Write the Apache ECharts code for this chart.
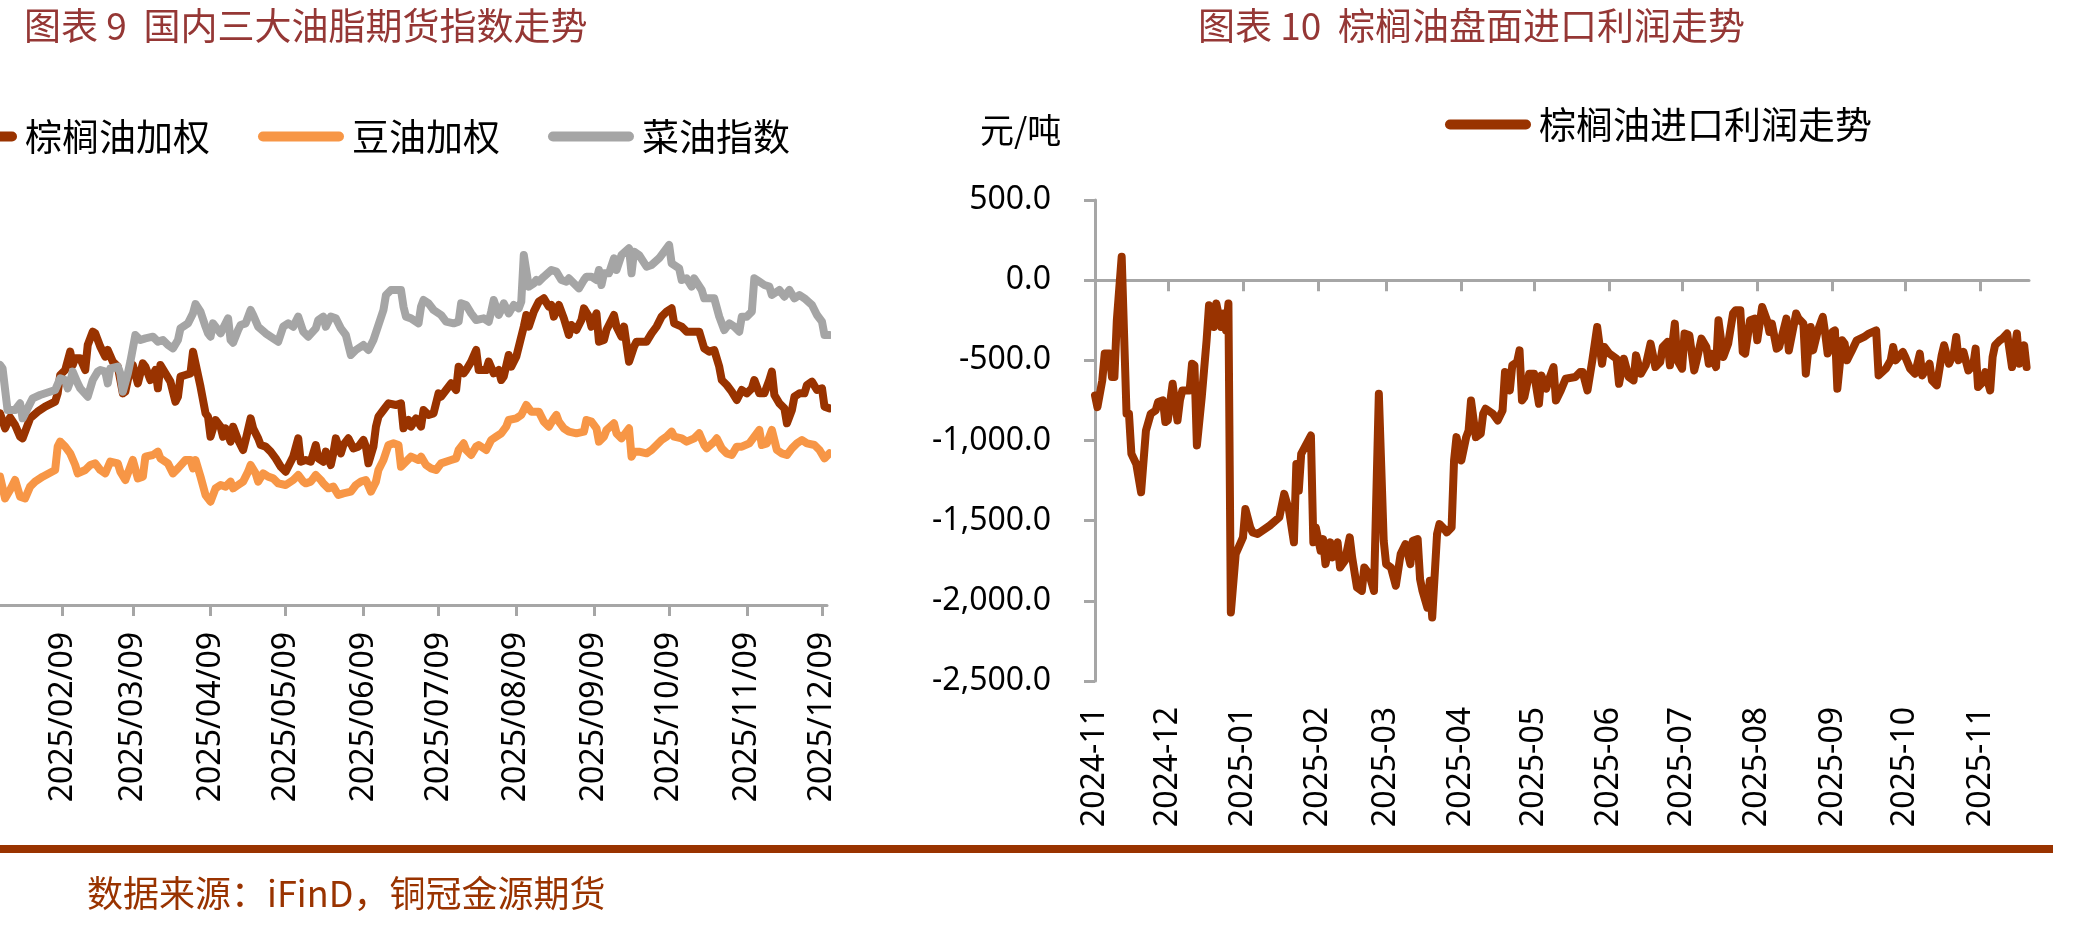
<!DOCTYPE html>
<html>
<head>
<meta charset="utf-8">
<title>国内三大油脂期货指数走势 / 棕榈油盘面进口利润走势</title>
<script src="https://cdn.jsdelivr.net/npm/echarts@6/dist/echarts.min.js"></script>
<style>
  html, body { margin: 0; padding: 0; background: #fff; }
  #chart { width: 2095px; height: 928px; }
</style>
</head>
<body>
<div id="chart"></div>
<script>
const DAY = 86400000

// 图表9：三大油脂指数，横轴为自 2025-01-15 起的天数
const oilBase = Date.UTC(2025, 0, 15)

const palmDays = [
  0, 2, 4, 6, 8, 9, 12, 15, 18, 22,
  23, 24, 26, 28, 29, 30, 32, 34, 35, 37,
  38, 40, 42, 43, 45, 47, 49, 50, 52, 53,
  55, 57, 58, 60, 62, 63, 64, 66, 68, 70,
  71, 72, 74, 76, 77, 78, 80, 82, 83, 84,
  86, 88, 89, 90, 92, 93, 95, 97, 98, 100,
  101, 103, 104, 106, 108, 110, 112, 114, 115, 117,
  119, 120, 122, 124, 126, 127, 129, 130, 132, 133,
  134, 136, 137, 139, 141, 143, 145, 146, 147, 149,
  150, 151, 153, 155, 158, 160, 161, 162, 163, 164,
  166, 168, 169, 171, 173, 175, 176, 178, 180, 182,
  183, 185, 186, 188, 190, 191, 194, 195, 197, 199,
  200, 201, 203, 204, 206, 207, 209, 210, 211, 213,
  215, 217, 219, 220, 221, 223, 225, 227, 228, 230,
  232, 233, 235, 236, 238, 239, 241, 242, 245, 246,
  248, 249, 251, 253, 254, 258, 260, 262, 264, 266,
  268, 269, 272, 274, 277, 279, 281, 283, 285, 287,
  288, 290, 292, 294, 296, 298, 300, 301, 303, 305,
  307, 308, 309, 311, 313, 314, 316, 317, 319, 321,
  322, 324, 326, 328, 329, 331
]
const palmVals = [
  8400, 8265, 8364, 8295, 8190, 8175, 8355, 8415, 8460, 8505,
  8580, 8745, 8790, 8955, 8835, 8895, 8895, 8790, 9015, 9135,
  9120, 9000, 8910, 8970, 8865, 8820, 8580, 8595, 8805, 8835,
  8670, 8850, 8820, 8700, 8790, 8625, 8835, 8760, 8685, 8505,
  8550, 8730, 8745, 8760, 8955, 8850, 8640, 8400, 8370, 8190,
  8340, 8280, 8190, 8265, 8145, 8280, 8160, 8070, 8160, 8355,
  8265, 8175, 8115, 8100, 8055, 7995, 7920, 7875, 7920, 8010,
  8175, 7965, 7980, 7965, 8115, 7995, 7965, 8055, 7935, 8040,
  8175, 8040, 8115, 8175, 8085, 8100, 8160, 8100, 7950, 8100,
  8280, 8370, 8430, 8490, 8475, 8490, 8265, 8310, 8340, 8280,
  8355, 8280, 8430, 8385, 8400, 8580, 8550, 8610, 8670, 8610,
  8820, 8760, 8790, 8865, 8970, 8790, 8790, 8865, 8760, 8790,
  8700, 8730, 8925, 8820, 8910, 9000, 9180, 9285, 9180, 9315,
  9405, 9435, 9360, 9375, 9270, 9375, 9255, 9105, 9195, 9150,
  9240, 9345, 9270, 9180, 9300, 9045, 9060, 9150, 9285, 9180,
  9090, 9180, 8865, 9000, 9045, 9045, 9120, 9180, 9270, 9315,
  9345, 9210, 9180, 9135, 9135, 9135, 8985, 8955, 8970, 8820,
  8700, 8655, 8595, 8520, 8610, 8580, 8625, 8700, 8580, 8580,
  8700, 8775, 8565, 8490, 8445, 8310, 8430, 8550, 8580, 8580,
  8655, 8685, 8610, 8625, 8460, 8445
]

const soyDays = [
  0, 2, 4, 6, 8, 10, 12, 14, 17, 22,
  23, 24, 26, 28, 30, 31, 34, 36, 38, 40,
  42, 44, 47, 48, 50, 52, 53, 55, 57, 58,
  61, 63, 64, 67, 69, 71, 74, 76, 77, 78,
  80, 82, 84, 86, 88, 90, 92, 93, 95, 97,
  99, 100, 102, 103, 105, 107, 109, 111, 114, 117,
  119, 121, 122, 124, 126, 128, 129, 131, 133, 135,
  137, 140, 142, 144, 146, 148, 150, 151, 153, 155,
  157, 159, 160, 162, 164, 167, 168, 170, 172, 174,
  176, 180, 182, 183, 185, 186, 188, 190, 191, 194,
  196, 198, 200, 202, 203, 206, 208, 209, 210, 212,
  214, 215, 217, 219, 221, 222, 223, 225, 227, 230,
  233, 234, 236, 238, 239, 241, 242, 245, 246, 248,
  251, 252, 253, 255, 258, 260, 262, 264, 266, 268,
  269, 272, 274, 277, 279, 281, 282, 285, 286, 288,
  290, 292, 294, 296, 299, 301, 303, 304, 306, 308,
  310, 312, 314, 316, 318, 320, 322, 325, 327, 329,
  331
]
const soyVals = [
  7830, 7635, 7710, 7800, 7650, 7635, 7740, 7785, 7830, 7890,
  8100, 8145, 8100, 8040, 7935, 7860, 7890, 7935, 7950, 7890,
  7860, 7965, 7950, 7875, 7800, 7920, 7980, 7815, 7830, 8010,
  8025, 8055, 7995, 7950, 7860, 7905, 7980, 7980, 7905, 7980,
  7830, 7665, 7605, 7725, 7755, 7740, 7785, 7725, 7755, 7785,
  7875, 7935, 7860, 7785, 7860, 7830, 7815, 7770, 7755, 7800,
  7845, 7785, 7770, 7785, 7845, 7800, 7770, 7725, 7740, 7665,
  7680, 7695, 7755, 7785, 7800, 7695, 7785, 7890, 7980, 8115,
  8130, 8115, 7920, 7965, 8010, 7980, 8010, 7935, 7905, 7890,
  7950, 7980, 7995, 8070, 8130, 8070, 8025, 8100, 8115, 8070,
  8160, 8190, 8220, 8280, 8340, 8355, 8385, 8430, 8475, 8415,
  8415, 8415, 8325, 8280, 8355, 8385, 8325, 8265, 8235, 8220,
  8235, 8340, 8325, 8265, 8145, 8190, 8250, 8310, 8220, 8175,
  8265, 8010, 8055, 8055, 8040, 8070, 8115, 8160, 8190, 8235,
  8190, 8175, 8145, 8175, 8220, 8115, 8085, 8145, 8175, 8085,
  8040, 8025, 8100, 8100, 8130, 8190, 8250, 8115, 8130, 8250,
  8070, 8040, 8025, 8085, 8130, 8160, 8130, 8115, 8070, 7995,
  8040
]

const rapeDays = [
  0, 1, 3, 6, 8, 9, 10, 13, 16, 22,
  24, 26, 27, 28, 29, 31, 32, 35, 37, 39,
  40, 42, 43, 44, 47, 48, 49, 51, 52, 54,
  56, 58, 61, 63, 65, 67, 69, 71, 72, 75,
  77, 78, 80, 82, 83, 84, 85, 88, 90, 91,
  92, 93, 95, 96, 98, 100, 101, 103, 106, 109,
  111, 113, 115, 117, 119, 121, 123, 126, 127, 129,
  130, 132, 134, 136, 138, 140, 142, 145, 147, 149,
  151, 153, 154, 156, 158, 160, 161, 162, 164, 167,
  168, 169, 171, 173, 176, 178, 181, 183, 184, 186,
  188, 190, 193, 195, 196, 197, 199, 200, 201, 203,
  205, 207, 208, 209, 211, 213, 214, 215, 217, 220,
  222, 224, 226, 227, 229, 231, 233, 234, 236, 238,
  239, 240, 241, 243, 245, 246, 248, 251, 252, 253,
  255, 258, 260, 263, 267, 268, 271, 272, 274, 276,
  277, 280, 281, 283, 285, 287, 289, 291, 293, 295,
  296, 298, 300, 301, 303, 305, 307, 308, 311, 313,
  315, 317, 319, 321, 324, 326, 328, 329, 331
]
const rapeVals = [
  8835, 8805, 8430, 8430, 8490, 8355, 8400, 8535, 8565, 8610,
  8715, 8700, 8625, 8685, 8775, 8670, 8625, 8550, 8700, 8775,
  8790, 8775, 8670, 8805, 8820, 8760, 8595, 8760, 8865, 9105,
  9060, 9075, 9090, 9045, 9060, 9015, 8985, 9060, 9165, 9210,
  9300, 9384, 9315, 9180, 9120, 9090, 9210, 9120, 9210, 9255,
  9060, 9036, 9150, 9195, 9210, 9330, 9285, 9180, 9120, 9075,
  9045, 9180, 9210, 9180, 9270, 9135, 9090, 9165, 9240, 9270,
  9180, 9270, 9255, 9165, 9105, 8925, 8970, 9015, 8970, 9060,
  9195, 9330, 9465, 9510, 9510, 9510, 9360, 9270, 9255, 9210,
  9360, 9420, 9390, 9330, 9285, 9225, 9210, 9225, 9390, 9375,
  9300, 9240, 9255, 9225, 9315, 9420, 9285, 9330, 9390, 9300,
  9375, 9345, 9405, 9825, 9540, 9570, 9600, 9585, 9630, 9690,
  9675, 9600, 9585, 9615, 9570, 9525, 9600, 9630, 9630, 9600,
  9690, 9555, 9660, 9660, 9795, 9690, 9825, 9885, 9660, 9855,
  9825, 9720, 9735, 9795, 9915, 9750, 9705, 9600, 9615, 9540,
  9615, 9510, 9435, 9435, 9435, 9270, 9150, 9210, 9180, 9135,
  9270, 9270, 9315, 9615, 9585, 9555, 9540, 9465, 9510, 9450,
  9510, 9435, 9465, 9435, 9375, 9285, 9225, 9105, 9105
]

const oilTickLabels = [
  '2025/01/09', '2025/02/09', '2025/03/09', '2025/04/09', '2025/05/09', '2025/06/09',
  '2025/07/09', '2025/08/09', '2025/09/09', '2025/10/09', '2025/11/09', '2025/12/09'
]

// 图表10：棕榈油进口利润（元/吨），横轴为自 2024-11-01 起的天数
const profitBase = Date.UTC(2024, 10, 1)

const profitDays = [
  0, 1, 3, 4, 6, 7, 8, 9, 11, 13,
  14, 15, 17, 19, 21, 23, 25, 26, 28, 29,
  30, 32, 34, 35, 36, 39, 40, 41, 42, 44,
  46, 47, 49, 50, 52, 53, 54, 55, 56, 58,
  61, 62, 64, 65, 67, 72, 76, 78, 80, 82,
  83, 84, 85, 89, 90, 91, 93, 94, 95, 97,
  98, 100, 101, 103, 105, 106, 108, 110, 111, 113,
  115, 117, 119, 120, 122, 124, 126, 128, 130, 131,
  133, 134, 135, 137, 138, 139, 141, 142, 144, 145,
  147, 148, 149, 151, 153, 154, 155, 157, 159, 160,
  161, 164, 166, 168, 169, 171, 172, 174, 175, 176,
  177, 179, 181, 183, 184, 186, 187, 189, 190, 192,
  194, 198, 200, 201, 203, 205, 207, 209, 210, 212,
  215, 216, 218, 220, 222, 223, 225, 227, 229, 231,
  233, 234, 236, 237, 239, 240, 242, 243, 245, 247,
  248, 250, 252, 253, 254, 256, 257, 259, 261, 263,
  264, 266, 267, 268, 270, 272, 273, 275, 277, 278,
  279, 281, 282, 284, 285, 286, 289, 290, 292, 293,
  295, 296, 298, 300, 301, 302, 303, 304, 305, 306,
  308, 309, 310, 311, 312, 314, 317, 319, 322, 323,
  326, 328, 329, 330, 333, 334, 336, 338, 340, 341,
  344, 345, 347, 349, 350, 352, 354, 355, 356, 358,
  360, 362, 363, 364, 366, 367, 369, 370, 371, 373,
  374, 376, 378, 380, 381, 383, 384
]
const profitVals = [
  -719, -792, -625, -458, -458, -604, -604, -250, 146, -833,
  -833, -1083, -1146, -1323, -938, -833, -813, -760, -750, -885,
  -875, -646, -875, -750, -688, -688, -521, -531, -1031, -729,
  -375, -156, -292, -146, -292, -208, -313, -146, -2073, -1708,
  -1604, -1427, -1542, -1573, -1583, -1531, -1479, -1333, -1438, -1635,
  -1146, -1313, -1083, -969, -1635, -1542, -1688, -1615, -1771, -1635,
  -1729, -1635, -1792, -1750, -1604, -1729, -1917, -1938, -1792, -1833,
  -1938, -708, -1625, -1771, -1792, -1906, -1708, -1646, -1771, -1625,
  -1615, -1865, -1938, -2042, -1875, -2104, -1583, -1521, -1552, -1573,
  -1542, -1125, -979, -1125, -979, -938, -750, -979, -958, -833,
  -802, -833, -875, -813, -573, -688, -531, -510, -438, -750,
  -729, -583, -583, -771, -594, -677, -625, -542, -750, -688,
  -615, -604, -573, -573, -688, -500, -292, -521, -417, -458,
  -490, -646, -490, -604, -625, -469, -583, -531, -396, -542,
  -510, -417, -385, -531, -271, -500, -552, -333, -344, -563,
  -500, -365, -417, -521, -458, -542, -250, -479, -396, -208,
  -188, -188, -448, -458, -250, -240, -375, -167, -250, -323,
  -271, -427, -417, -302, -240, -438, -208, -240, -271, -583,
  -292, -438, -313, -229, -333, -458, -417, -323, -313, -677,
  -375, -396, -500, -469, -438, -375, -354, -333, -313, -594,
  -552, -500, -417, -500, -448, -479, -552, -583, -458, -594,
  -521, -625, -656, -469, -406, -521, -458, -354, -500, -448,
  -563, -531, -427, -667, -635, -573, -688, -479, -406, -375,
  -365, -333, -542, -333, -521, -406, -542
]

const profitTickLabels = [
  '2024-11', '2024-12', '2025-01', '2025-02', '2025-03', '2025-04', '2025-05',
  '2025-06', '2025-07', '2025-08', '2025-09', '2025-10', '2025-11'
]

const COLORS = {
  palm: '#993300',
  soy: '#F79646',
  rape: '#A5A5A5',
  axis: '#A6A6A6',
  title: '#953735'
}

function toPairs(base, days, vals) {
  if (days.length !== vals.length) console.warn('length mismatch', days.length, vals.length)
  return days.map((d, i) => [base + d * DAY, vals[i]])
}
function parseDay(s) {
  const p = s.split(/[-/]/).map(Number)
  return Date.UTC(p[0], p[1] - 1, p[2] || 1)
}
function pad(n) {
  return n < 10 ? '0' + n : '' + n
}
function fmtSlash(v) {
  const d = new Date(v)
  return d.getUTCFullYear() + '/' + pad(d.getUTCMonth() + 1) + '/' + pad(d.getUTCDate())
}
function fmtMonth(v) {
  const d = new Date(v)
  return d.getUTCFullYear() + '-' + pad(d.getUTCMonth() + 1)
}
function fmtProfit(v) {
  const parts = Math.abs(v).toFixed(1).split('.')
  const int = parts[0].replace(/\B(?=(\d{3})+(?!\d))/g, ',')
  return (v < 0 ? '-' : '') + int + '.' + parts[1]
}

const oilTicks = oilTickLabels.map(parseDay)
const profitTicks = profitTickLabels.map(parseDay)

const pill = 'path://M5,0L81,0A5,5,0,0,1,81,10L5,10A5,5,0,0,1,5,0Z'
const cjk = 'Noto Sans CJK SC'
const latin = 'Noto Sans'

const axisLine = { lineStyle: { color: COLORS.axis, width: 3 } }
const labelStyle = { fontSize: 32, fontFamily: latin, color: '#000' }

function lineSeries(name, data, color, xi, yi) {
  return {
    name: name,
    type: 'line',
    xAxisIndex: xi,
    yAxisIndex: yi,
    data: data,
    showSymbol: false,
    symbol: 'none',
    color: color,
    lineStyle: { color: color, width: 8, cap: 'round', join: 'round' }
  }
}

const chart = echarts.init(document.getElementById('chart'))
chart.setOption({
  animation: false,
  backgroundColor: '#fff',
  title: [
    {
      text: '图表 9  国内三大油脂期货指数走势',
      left: 24, top: 7, padding: 0,
      textStyle: { fontSize: 37, fontWeight: 'normal', color: COLORS.title, fontFamily: cjk }
    },
    {
      text: '图表 10  棕榈油盘面进口利润走势',
      left: 1198, top: 7, padding: 0,
      textStyle: { fontSize: 37, fontWeight: 'normal', color: COLORS.title, fontFamily: cjk }
    }
  ],
  legend: [
    {
      data: ['棕榈油加权', '豆油加权', '菜油指数'],
      left: -69, top: 118, padding: 0,
      itemGap: 48, itemWidth: 86, itemHeight: 10, icon: pill,
      textStyle: { fontSize: 37, fontFamily: cjk, color: '#000', padding: [0, 0, 0, 3] }
    },
    {
      data: ['棕榈油进口利润走势'],
      left: 1445, top: 106, padding: 0,
      itemWidth: 86, itemHeight: 10, icon: pill,
      textStyle: { fontSize: 37, fontFamily: cjk, color: '#000', padding: [0, 0, 0, 3] }
    }
  ],
  grid: [
    { left: -15, right: 1268, top: 155, bottom: 323, outerBoundsMode: 'none', containLabel: false },
    { left: 1095, right: 66, top: 200, bottom: 247, outerBoundsMode: 'none', containLabel: false }
  ],
  xAxis: [
    {
      gridIndex: 0,
      type: 'value',
      min: parseDay('2025/01/09'),
      max: parseDay('2025/12/11'),
      axisLine: axisLine,
      axisTick: { length: 11, customValues: oilTicks, lineStyle: { color: COLORS.axis, width: 3 } },
      axisLabel: Object.assign({ rotate: 90, margin: 27, customValues: oilTicks, formatter: fmtSlash }, labelStyle),
      splitLine: { show: false }
    },
    {
      gridIndex: 1,
      type: 'value',
      position: 'bottom',
      min: profitBase,
      max: profitBase + 385 * DAY,
      axisLine: { onZero: true, lineStyle: { color: COLORS.axis, width: 3 } },
      axisTick: { length: 11, customValues: profitTicks, lineStyle: { color: COLORS.axis, width: 3 } },
      axisLabel: { show: false },
      splitLine: { show: false }
    },
    {
      gridIndex: 1,
      type: 'value',
      position: 'bottom',
      min: profitBase,
      max: profitBase + 385 * DAY,
      axisLine: { show: false, onZero: false },
      axisTick: { show: false },
      axisLabel: Object.assign({ rotate: 90, margin: 26, customValues: profitTicks, formatter: fmtMonth }, labelStyle),
      splitLine: { show: false }
    }
  ],
  yAxis: [
    {
      gridIndex: 0,
      type: 'value',
      min: 6675,
      max: 10725,
      show: false,
      splitLine: { show: false }
    },
    {
      gridIndex: 1,
      type: 'value',
      min: -2500,
      max: 500,
      interval: 500,
      axisLine: { show: true, onZero: false, lineStyle: { color: COLORS.axis, width: 3 } },
      axisTick: { show: true, length: 11, lineStyle: { color: COLORS.axis, width: 3 } },
      axisLabel: Object.assign({ margin: 44, formatter: fmtProfit }, labelStyle),
      splitLine: { show: false }
    }
  ],
  graphic: [
    {
      type: 'text', x: 980, y: 130,
      style: { text: '元/吨', fontSize: 34, fontFamily: cjk, fill: '#000', verticalAlign: 'middle' }
    },
    {
      type: 'rect',
      shape: { x: 0, y: 845, width: 2053, height: 8 },
      style: { fill: '#993300' }
    },
    {
      type: 'text', x: 87, y: 893,
      style: { text: '数据来源：iFinD，铜冠金源期货', fontSize: 36, fontFamily: cjk, fill: '#993300', verticalAlign: 'middle' }
    }
  ],
  series: [
    lineSeries('棕榈油加权', toPairs(oilBase, palmDays, palmVals), COLORS.palm, 0, 0),
    lineSeries('豆油加权', toPairs(oilBase, soyDays, soyVals), COLORS.soy, 0, 0),
    lineSeries('菜油指数', toPairs(oilBase, rapeDays, rapeVals), COLORS.rape, 0, 0),
    lineSeries('棕榈油进口利润走势', toPairs(profitBase, profitDays, profitVals), COLORS.palm, 1, 1)
  ]
})
</script>
</body>
</html>
